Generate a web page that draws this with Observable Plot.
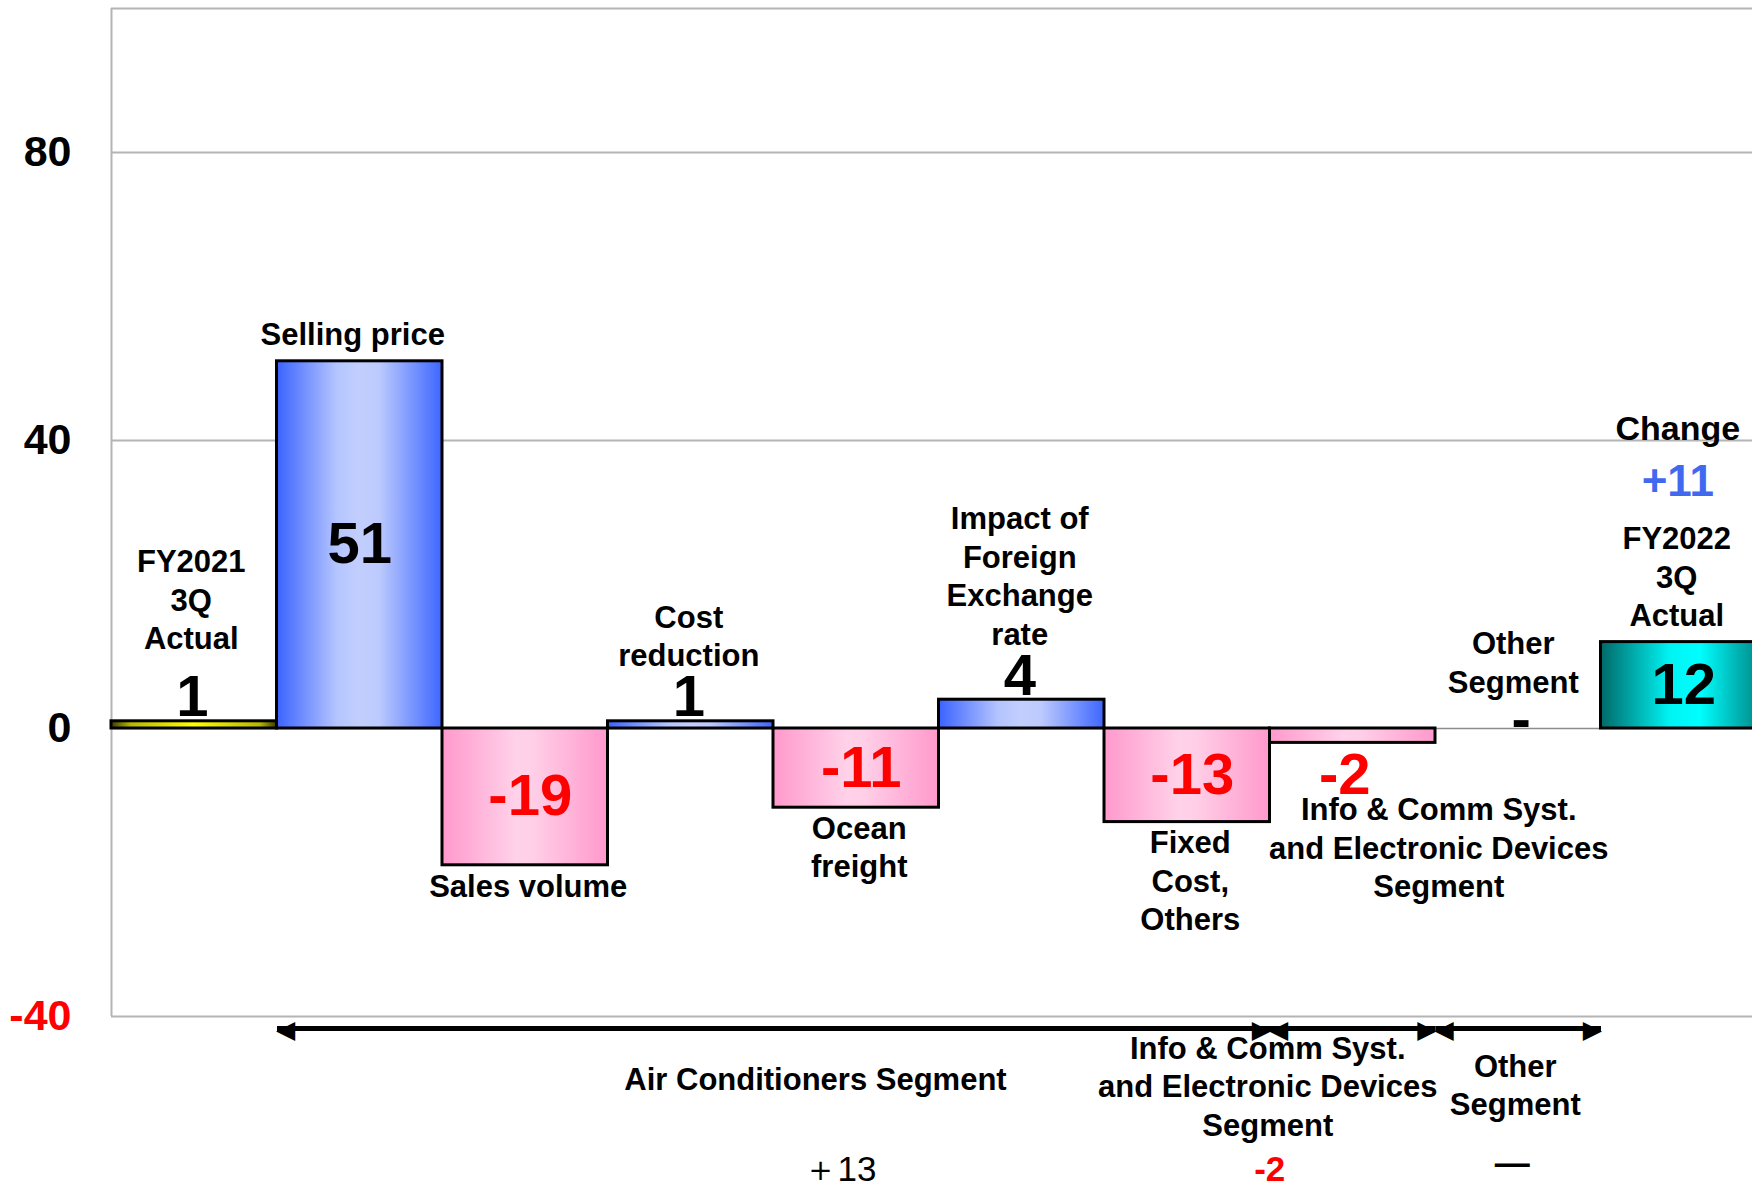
<!DOCTYPE html>
<html>
<head>
<meta charset="utf-8">
<script src="https://cdn.jsdelivr.net/npm/d3@7"></script>
<script src="https://cdn.jsdelivr.net/npm/@observablehq/plot@0.6"></script>
<style>
  html, body { margin: 0; padding: 0; background: #fff; overflow: hidden; }
  #chart svg { display: block; overflow: hidden; }
</style>
</head>
<body>
<div id="chart"></div>
<script>
// Operating income bridge: FY2021 3Q actual → FY2022 3Q actual (billion yen)
const categories = [
  "FY2021\n3Q\nActual",
  "Selling price",
  "Sales volume",
  "Cost\nreduction",
  "Ocean\nfreight",
  "Impact of\nForeign\nExchange\nrate",
  "Fixed\nCost,\nOthers",
  "Info & Comm Syst.\nand Electronic Devices\nSegment",
  "Other\nSegment",
  "FY2022\n3Q\nActual"
];
const values = [1, 51, -19, 1, -11, 4, -13, -2, 0, 12];
const barKinds = ["start", "up", "down", "up", "down", "up", "down", "down", "none", "end"];
const yTicks = [80, 40, 0, -40];
const change = 11;

// Business segments spanned by the factors (category indexes)
const segments = [
  "Air Conditioners Segment",
  "Info & Comm Syst.\nand Electronic Devices\nSegment",
  "Other\nSegment"
];
const segmentFirst = [1, 7, 8];
const segmentLast = [6, 7, 8];
const segmentTotals = [13, -2, null];

const rows = categories.map((name, i) => ({i, name, value: values[i], kind: barKinds[i]}));
const segRows = segments.map((name, k) => ({
  k, name, first: segmentFirst[k], last: segmentLast[k], total: segmentTotals[k]
}));

const FONT = "'Liberation Sans', Arial, Helvetica, sans-serif";
const RED = "#ff0000";
const fills = {start: "url(#g-start)", up: "url(#g-up)", down: "url(#g-down)", end: "url(#g-end)"};
const isBig = d => Math.abs(d.value) >= 10;
const cx = d => d.i + 0.5;
const valueText = d => d.value === 0 ? "-" : String(d.value);
const totalText = d => d.total == null ? "—" : d.total > 0 ? "＋" + d.total : String(d.total);

const nameStyle = {x: cx, text: "name", fontFamily: FONT, fontWeight: "bold", fontSize: 31, lineHeight: 1.24, fill: "black"};
const valueStyle = {x: cx, text: valueText, fontFamily: FONT, fontWeight: "bold", fontSize: 58};
const tickStyle = {y: d => d, text: d => String(d), frameAnchor: "left", textAnchor: "end", dx: -40,
  fontFamily: FONT, fontWeight: "bold", fontSize: 43};

// Per-segment placement of the labels under the arrows
const segmentLayout = [
  {labelDx: 42, labelDy: 46, totalDx: 66},
  {labelDx: -85, labelDy: 15, totalDx: -83},
  {labelDx: -3, labelDy: 33, totalDx: -6}
];
const segMid = d => (d.first + d.last + 1) / 2;
const bottom = () => -40;

const segmentMarks = segRows.flatMap((s) => {
  const L = segmentLayout[s.k];
  const one = [s];
  return [
    Plot.text(one, {x: segMid, y: bottom, text: "name", lineAnchor: "top", dx: L.labelDx, dy: L.labelDy,
      fontFamily: FONT, fontWeight: "bold", fontSize: 31, lineHeight: 1.24, fill: "black"}),
    Plot.text(one, {x: segMid, y: bottom, text: totalText, lineAnchor: "bottom", dx: L.totalDx,
      dy: s.total == null ? 158 : 164, fontFamily: FONT,
      fontWeight: s.total == null ? "bold" : s.total < 0 ? "bold" : "normal", fontSize: 35,
      fill: s.total != null && s.total < 0 ? RED : "black"})
  ];
});

const svg = Plot.plot({
  width: 1752,
  height: 1186,
  marginLeft: 111,
  marginRight: -14,
  marginTop: 8,
  marginBottom: 170,
  x: {domain: [0, categories.length], range: [111, 1766], axis: null},
  y: {domain: [-40, 100], axis: null},
  style: {background: "white", overflow: "hidden"},
  marks: [
    // grid and frame
    Plot.ruleY([80, 40], {stroke: "#b4b4b4", strokeWidth: 2}),
    Plot.ruleY([0], {stroke: "#8c8c8c", strokeWidth: 1.5}),
    Plot.ruleY([100, -40], {stroke: "#b4b4b4", strokeWidth: 2}),
    Plot.ruleX([0], {stroke: "#b4b4b4", strokeWidth: 2}),

    // bars, each drawn from zero
    ...Object.keys(fills).map(kind =>
      Plot.rect(rows.filter(d => d.kind === kind), {
        x1: "i", x2: d => d.i + 1, y1: 0, y2: "value",
        fill: fills[kind], stroke: "black", strokeWidth: 3
      })),

    // y tick labels
    Plot.text(yTicks.filter(t => t >= 0), {...tickStyle, fill: "black"}),
    Plot.text(yTicks.filter(t => t < 0), {...tickStyle, fill: RED}),

    // values inside the large bars
    Plot.text(rows.filter(d => isBig(d) && d.value > 0), {...valueStyle, y: d => d.value / 2, lineAnchor: "middle", fill: "black"}),
    Plot.text(rows.filter(d => isBig(d) && d.value < 0), {...valueStyle, y: d => d.value / 2, lineAnchor: "middle", dx: 5, fill: RED}),
    // values next to the small bars
    Plot.text(rows.filter(d => !isBig(d) && d.value > 0), {...valueStyle, y: "value", lineAnchor: "bottom", dx: -2, dy: -5, fill: "black"}),
    Plot.text(rows.filter(d => !isBig(d) && d.value < 0), {...valueStyle, y: "value", lineAnchor: "top", dx: -8, dy: 10, fill: RED}),
    Plot.text(rows.filter(d => d.value === 0), {...valueStyle, y: "value", lineAnchor: "bottom", dx: 3, dy: 10, fill: "black"}),

    // factor names
    Plot.text(rows.filter(d => isBig(d) && d.value > 0), {...nameStyle, y: "value", lineAnchor: "bottom", dx: -7, dy: -16}),
    Plot.text(rows.filter(d => d.kind === "start"), {...nameStyle, y: "value", lineAnchor: "bottom", dx: -3, dy: -72}),
    Plot.text(rows.filter(d => d.kind !== "start" && !isBig(d) && d.value > 0), {...nameStyle, y: "value", lineAnchor: "bottom", dx: -2, dy: -55}),
    Plot.text(rows.filter(d => d.value === 0), {...nameStyle, y: "value", lineAnchor: "bottom", dx: -5, dy: -36}),
    Plot.text(rows.filter(d => isBig(d) && d.value < 0), {...nameStyle, y: "value", lineAnchor: "top", dx: 3, dy: 4}),
    Plot.text(rows.filter(d => !isBig(d) && d.value < 0), {...nameStyle, y: "value", lineAnchor: "top", dx: 86, dy: 50}),

    // total change above the final bar
    Plot.text([change], {x: () => categories.length - 0.5, y: () => values[values.length - 1], text: () => "Change",
      lineAnchor: "bottom", dx: -6, dy: -202, fontFamily: FONT, fontWeight: "bold", fontSize: 34, fill: "black",
      ariaLabel: "change-header"}),
    Plot.text([change], {x: () => categories.length - 0.5, y: () => values[values.length - 1], text: d => "+" + d,
      lineAnchor: "bottom", dx: -6, dy: -146, fontFamily: FONT, fontWeight: "bold", fontSize: 44, fill: "#4169f0",
      ariaLabel: "change-header"}),

    // segment arrows
    Plot.link(segRows, {x1: "first", x2: d => d.last + 1, y1: bottom, y2: bottom, dy: 12,
      stroke: "black", strokeWidth: 5}),
    Plot.text(segRows, {x: "first", y: bottom, text: () => "◀", textAnchor: "start", lineAnchor: "middle",
      dx: -1, dy: 13, fontFamily: "'DejaVu Sans'", fontSize: 25, fill: "black"}),
    Plot.text(segRows, {x: d => d.last + 1, y: bottom, text: () => "▶", textAnchor: "end", lineAnchor: "middle",
      dx: 1, dy: 13, fontFamily: "'DejaVu Sans'", fontSize: 25, fill: "black"}),
    ...segmentMarks
  ]
});

// bar gradients
const defs = d3.select(svg).insert("defs", ":first-child");
function gradient(id, stops) {
  const g = defs.append("linearGradient").attr("id", id)
    .attr("x1", 0).attr("x2", 1).attr("y1", 0).attr("y2", 0);
  for (const [offset, color] of stops) g.append("stop").attr("offset", offset).attr("stop-color", color);
}
gradient("g-start", [[0, "#3a3a00"], [0.12, "#b8b800"], [0.5, "#ffff00"], [0.9, "#b8b800"], [1, "#3a3a00"]]);
gradient("g-up", [[0, "#3a63ff"], [0.36, "#b4c4ff"], [0.5, "#c2cffd"], [0.62, "#bccafd"], [1, "#3d66ff"]]);
gradient("g-down", [[0, "#ff99cc"], [0.45, "#ffd2e9"], [0.55, "#ffcfe7"], [1, "#ff99cc"]]);
gradient("g-end", [[0, "#006868"], [0.42, "#00f4f4"], [0.6, "#00ffff"], [1, "#007a7a"]]);

d3.select(svg).selectAll('g[aria-label="change-header"]')
  .style("filter", "drop-shadow(2px 2px 1.5px rgba(0,0,0,0.35))");

document.getElementById("chart").appendChild(svg);
</script>
</body>
</html>
